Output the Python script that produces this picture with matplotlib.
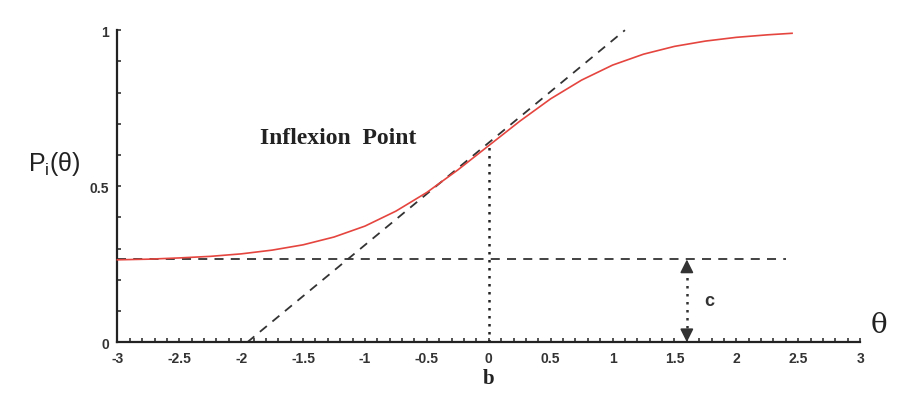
import matplotlib
matplotlib.use("Agg")
import matplotlib.pyplot as plt
from matplotlib.ticker import MultipleLocator

# Item characteristic curve
theta = [-3.0, -2.75, -2.5, -2.25, -2.0, -1.75, -1.5, -1.25, -1.0, -0.75, -0.5, -0.25,
         0.0, 0.25, 0.5, 0.75, 1.0, 1.25, 1.5, 1.75, 2.0, 2.25, 2.45]
prob = [0.264, 0.266, 0.270, 0.275, 0.283, 0.295, 0.312, 0.337, 0.372, 0.420, 0.480, 0.552,
        0.630, 0.708, 0.780, 0.840, 0.888, 0.923, 0.948, 0.965, 0.977, 0.985, 0.990]

# Guide lines
tangent_x = [-1.95, 1.1]
tangent_y = [0.0, 1.0]
c_line_x = [-3.0, 2.4]
c_value = 0.265
b_value = 0.0
inflex_p = 0.63
arrow_x = 1.6

xticks = [-3, -2.5, -2, -1.5, -1, -0.5, 0, 0.5, 1, 1.5, 2, 2.5, 3]
xtick_labels = ["-3", "-2.5", "-2", "-1.5", "-1", "-0.5", "0", "0.5", "1", "1.5", "2", "2.5", "3"]
yticks = [0, 0.5, 1]
ytick_labels = ["0", "0.5", "1"]

fig = plt.figure(figsize=(9.17, 4.10), dpi=100)
ax = fig.add_axes([0.128, 0.163, 0.810, 0.761])

ax.plot(theta, prob, color="#e5453f", lw=1.2, clip_on=False, zorder=3,
        solid_joinstyle="round")
ax.plot(tangent_x, tangent_y, color="#333333", lw=1.3, ls=(0, (5, 4)), clip_on=False)
ax.plot(c_line_x, [c_value, c_value], color="#333333", lw=1.3, ls=(0, (5, 4)), clip_on=False)
ax.plot([b_value, b_value], [0, inflex_p], color="#222222", lw=1.8, ls=(0, (1, 2.2)), clip_on=False)

# double-headed dotted arrow marking c
ax.plot([arrow_x, arrow_x], [0.02, c_value - 0.02], color="#333333", lw=1.8,
        ls=(0, (1, 2.2)), clip_on=False)
ax.annotate("", xy=(arrow_x, c_value), xytext=(arrow_x, c_value - 0.03),
            arrowprops=dict(arrowstyle="-|>", color="#333333", lw=1.2,
                            mutation_scale=20, shrinkA=0, shrinkB=0))
ax.annotate("", xy=(arrow_x, 0.0), xytext=(arrow_x, 0.03),
            arrowprops=dict(arrowstyle="-|>", color="#333333", lw=1.2,
                            mutation_scale=20, shrinkA=0, shrinkB=0))

ax.set_xlim(-3, 3)
ax.set_ylim(0, 1)
for s in ("top", "right"):
    ax.spines[s].set_visible(False)
ax.spines["left"].set_linewidth(1.6)
ax.spines["bottom"].set_linewidth(1.6)
ax.spines["left"].set_color("#222222")
ax.spines["bottom"].set_color("#222222")

ax.set_xticks(xticks)
ax.set_xticklabels(xtick_labels, fontfamily="Liberation Sans", fontweight="bold", fontsize=10, color="#333333")
ax.set_yticks(yticks)
ax.set_yticklabels(ytick_labels, fontfamily="Liberation Sans", fontweight="bold", fontsize=10, color="#333333")
ax.xaxis.set_minor_locator(MultipleLocator(0.1))
ax.yaxis.set_minor_locator(MultipleLocator(0.1))
ax.tick_params(axis="both", which="both", direction="in", length=3, width=1.2, color="#333333")
ax.tick_params(axis="x", which="major", pad=6)
ax.tick_params(axis="y", which="major", pad=6)

fig.text(0.030, 0.60, r"P$_\mathregular{i}$($\mathregular{\theta}$)", fontsize=18,
         fontfamily="Liberation Sans", color="#222222", ha="left", va="center")
fig.text(0.958, 0.205, "θ", fontsize=20, fontfamily="DejaVu Serif", color="#222222",
         ha="center", va="center")
ax.text(-1.85, 0.655, "Inflexion  Point", fontsize=17, fontfamily="Liberation Serif",
        fontweight="bold", color="#222222", ha="left", va="center")
ax.text(b_value, -0.115, "b", fontsize=15, fontfamily="Liberation Serif", fontweight="bold",
        color="#222222", ha="center", va="center", clip_on=False)
ax.text(1.74, 0.135, "c", fontsize=13, fontfamily="Liberation Sans", fontweight="bold",
        color="#333333", ha="left", va="center")

fig.savefig("out.png", dpi=100)
